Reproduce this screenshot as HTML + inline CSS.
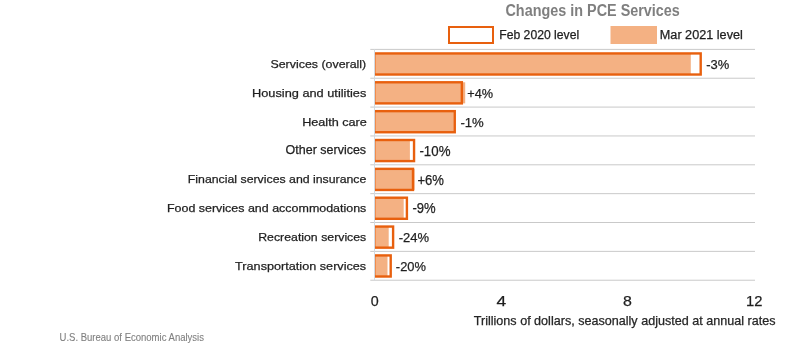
<!DOCTYPE html><html><head><meta charset="utf-8"><style>html,body{margin:0;padding:0;background:#fff;width:800px;height:344px;overflow:hidden}svg{display:block;will-change:transform}text{font-family:"Liberation Sans",sans-serif}</style></head><body>
<svg width="800" height="344" viewBox="0 0 800 344">
<defs><clipPath id="pc"><rect x="375" y="40" width="420" height="250"/></clipPath></defs>
<line x1="370.3" y1="49.38" x2="755" y2="49.38" stroke="#c9c9c9" stroke-width="1"/>
<line x1="370.3" y1="78.23" x2="755" y2="78.23" stroke="#c9c9c9" stroke-width="1"/>
<line x1="370.3" y1="107.09" x2="755" y2="107.09" stroke="#c9c9c9" stroke-width="1"/>
<line x1="370.3" y1="135.94" x2="755" y2="135.94" stroke="#c9c9c9" stroke-width="1"/>
<line x1="370.3" y1="164.80" x2="755" y2="164.80" stroke="#c9c9c9" stroke-width="1"/>
<line x1="370.3" y1="193.66" x2="755" y2="193.66" stroke="#c9c9c9" stroke-width="1"/>
<line x1="370.3" y1="222.51" x2="755" y2="222.51" stroke="#c9c9c9" stroke-width="1"/>
<line x1="370.3" y1="251.37" x2="755" y2="251.37" stroke="#c9c9c9" stroke-width="1"/>
<line x1="370.3" y1="280.22" x2="755" y2="280.22" stroke="#c9c9c9" stroke-width="1"/>
<line x1="374.5" y1="49.38" x2="374.5" y2="280.22" stroke="#d3dae1" stroke-width="1"/>
<g clip-path="url(#pc)">
<rect x="375.0" y="53.43" width="315.80" height="21.1" fill="#F4B183"/>
<rect x="374.25" y="53.43" width="326.45" height="21.1" fill="none" stroke="#E8600E" stroke-width="2.4"/>
<rect x="375.0" y="82.28" width="90.20" height="21.1" fill="#F4B183"/>
<rect x="374.25" y="82.28" width="87.60" height="21.1" fill="none" stroke="#E8600E" stroke-width="2.4"/>
<rect x="375.0" y="111.14" width="78.90" height="21.1" fill="#F4B183"/>
<rect x="374.25" y="111.14" width="80.50" height="21.1" fill="none" stroke="#E8600E" stroke-width="2.4"/>
<rect x="375.0" y="140.00" width="34.90" height="21.1" fill="#F4B183"/>
<rect x="374.25" y="140.00" width="39.80" height="21.1" fill="none" stroke="#E8600E" stroke-width="2.4"/>
<rect x="375.0" y="168.85" width="39.60" height="21.1" fill="#F4B183"/>
<rect x="374.25" y="168.85" width="38.75" height="21.1" fill="none" stroke="#E8600E" stroke-width="2.4"/>
<rect x="375.0" y="197.71" width="28.70" height="21.1" fill="#F4B183"/>
<rect x="374.25" y="197.71" width="32.65" height="21.1" fill="none" stroke="#E8600E" stroke-width="2.4"/>
<rect x="375.0" y="226.56" width="13.70" height="21.1" fill="#F4B183"/>
<rect x="374.25" y="226.56" width="18.85" height="21.1" fill="none" stroke="#E8600E" stroke-width="2.4"/>
<rect x="375.0" y="255.42" width="12.50" height="21.1" fill="#F4B183"/>
<rect x="374.25" y="255.42" width="16.45" height="21.1" fill="none" stroke="#E8600E" stroke-width="2.4"/>
</g>
<rect x="449" y="27" width="44" height="16" fill="none" stroke="#E8600E" stroke-width="2"/>
<rect x="610.5" y="26" width="46.5" height="18" fill="#F4B183"/>
<text x="505.48" y="15.50" font-size="16.41" font-weight="bold" fill="#7f7f7f" textLength="174.39" lengthAdjust="spacingAndGlyphs">Changes in PCE Services</text>
<text x="499.23" y="38.90" font-size="11.87" font-weight="normal" fill="#1f1f1f" stroke="#1f1f1f" stroke-width="0.25" textLength="79.97" lengthAdjust="spacingAndGlyphs">Feb 2020 level</text>
<text x="659.80" y="38.90" font-size="11.87" font-weight="normal" fill="#1f1f1f" stroke="#1f1f1f" stroke-width="0.25" textLength="83.05" lengthAdjust="spacingAndGlyphs">Mar 2021 level</text>
<text x="270.45" y="67.70" font-size="11.73" font-weight="normal" fill="#1f1f1f" stroke="#1f1f1f" stroke-width="0.25" textLength="95.79" lengthAdjust="spacingAndGlyphs">Services (overall)</text>
<text x="252.01" y="96.70" font-size="11.59" font-weight="normal" fill="#1f1f1f" stroke="#1f1f1f" stroke-width="0.25" textLength="114.27" lengthAdjust="spacingAndGlyphs">Housing and utilities</text>
<text x="302.15" y="125.60" font-size="11.31" font-weight="normal" fill="#1f1f1f" stroke="#1f1f1f" stroke-width="0.25" textLength="64.71" lengthAdjust="spacingAndGlyphs">Health care</text>
<text x="285.60" y="154.40" font-size="11.87" font-weight="normal" fill="#1f1f1f" stroke="#1f1f1f" stroke-width="0.25" textLength="80.52" lengthAdjust="spacingAndGlyphs">Other services</text>
<text x="187.85" y="183.30" font-size="11.45" font-weight="normal" fill="#1f1f1f" stroke="#1f1f1f" stroke-width="0.25" textLength="178.53" lengthAdjust="spacingAndGlyphs">Financial services and insurance</text>
<text x="166.95" y="212.30" font-size="11.31" font-weight="normal" fill="#1f1f1f" stroke="#1f1f1f" stroke-width="0.25" textLength="199.42" lengthAdjust="spacingAndGlyphs">Food services and accommodations</text>
<text x="258.23" y="241.10" font-size="11.59" font-weight="normal" fill="#1f1f1f" stroke="#1f1f1f" stroke-width="0.25" textLength="108.04" lengthAdjust="spacingAndGlyphs">Recreation services</text>
<text x="235.08" y="270.00" font-size="11.73" font-weight="normal" fill="#1f1f1f" stroke="#1f1f1f" stroke-width="0.25" textLength="131.11" lengthAdjust="spacingAndGlyphs">Transportation services</text>
<text x="706.30" y="69.40" font-size="13.27" font-weight="normal" fill="#1f1f1f" stroke="#1f1f1f" stroke-width="0.25" textLength="23.04" lengthAdjust="spacingAndGlyphs">-3%</text>
<text x="467.23" y="97.80" font-size="13.13" font-weight="normal" fill="#1f1f1f" stroke="#1f1f1f" stroke-width="0.25" textLength="25.77" lengthAdjust="spacingAndGlyphs">+4%</text>
<text x="460.42" y="127.00" font-size="13.55" font-weight="normal" fill="#1f1f1f" stroke="#1f1f1f" stroke-width="0.25" textLength="23.37" lengthAdjust="spacingAndGlyphs">-1%</text>
<text x="419.45" y="155.80" font-size="13.97" font-weight="normal" fill="#1f1f1f" stroke="#1f1f1f" stroke-width="0.25" textLength="31.02" lengthAdjust="spacingAndGlyphs">-10%</text>
<text x="417.46" y="184.60" font-size="13.83" font-weight="normal" fill="#1f1f1f" stroke="#1f1f1f" stroke-width="0.25" textLength="26.52" lengthAdjust="spacingAndGlyphs">+6%</text>
<text x="412.47" y="213.30" font-size="13.83" font-weight="normal" fill="#1f1f1f" stroke="#1f1f1f" stroke-width="0.25" textLength="23.20" lengthAdjust="spacingAndGlyphs">-9%</text>
<text x="398.78" y="242.20" font-size="13.41" font-weight="normal" fill="#1f1f1f" stroke="#1f1f1f" stroke-width="0.25" textLength="30.36" lengthAdjust="spacingAndGlyphs">-24%</text>
<text x="395.86" y="271.00" font-size="13.55" font-weight="normal" fill="#1f1f1f" stroke="#1f1f1f" stroke-width="0.25" textLength="30.08" lengthAdjust="spacingAndGlyphs">-20%</text>
<text x="370.67" y="306.00" font-size="14.66" font-weight="normal" fill="#1f1f1f" stroke="#1f1f1f" stroke-width="0.25" textLength="7.95" lengthAdjust="spacingAndGlyphs">0</text>
<text x="496.52" y="306.00" font-size="14.66" font-weight="normal" fill="#1f1f1f" stroke="#1f1f1f" stroke-width="0.25" textLength="9.69" lengthAdjust="spacingAndGlyphs">4</text>
<text x="623.12" y="306.00" font-size="14.66" font-weight="normal" fill="#1f1f1f" stroke="#1f1f1f" stroke-width="0.25" textLength="8.86" lengthAdjust="spacingAndGlyphs">8</text>
<text x="745.96" y="306.00" font-size="14.66" font-weight="normal" fill="#1f1f1f" stroke="#1f1f1f" stroke-width="0.25" textLength="16.44" lengthAdjust="spacingAndGlyphs">12</text>
<text x="473.75" y="325.00" font-size="12.15" font-weight="normal" fill="#262626" stroke="#262626" stroke-width="0.25" textLength="301.75" lengthAdjust="spacingAndGlyphs">Trillions of dollars, seasonally adjusted at annual rates</text>
<text x="59.57" y="341.30" font-size="10.20" font-weight="normal" fill="#7f7f7f" stroke="#7f7f7f" stroke-width="0.1" textLength="144.43" lengthAdjust="spacingAndGlyphs">U.S. Bureau of Economic Analysis</text>
</svg></body></html>
